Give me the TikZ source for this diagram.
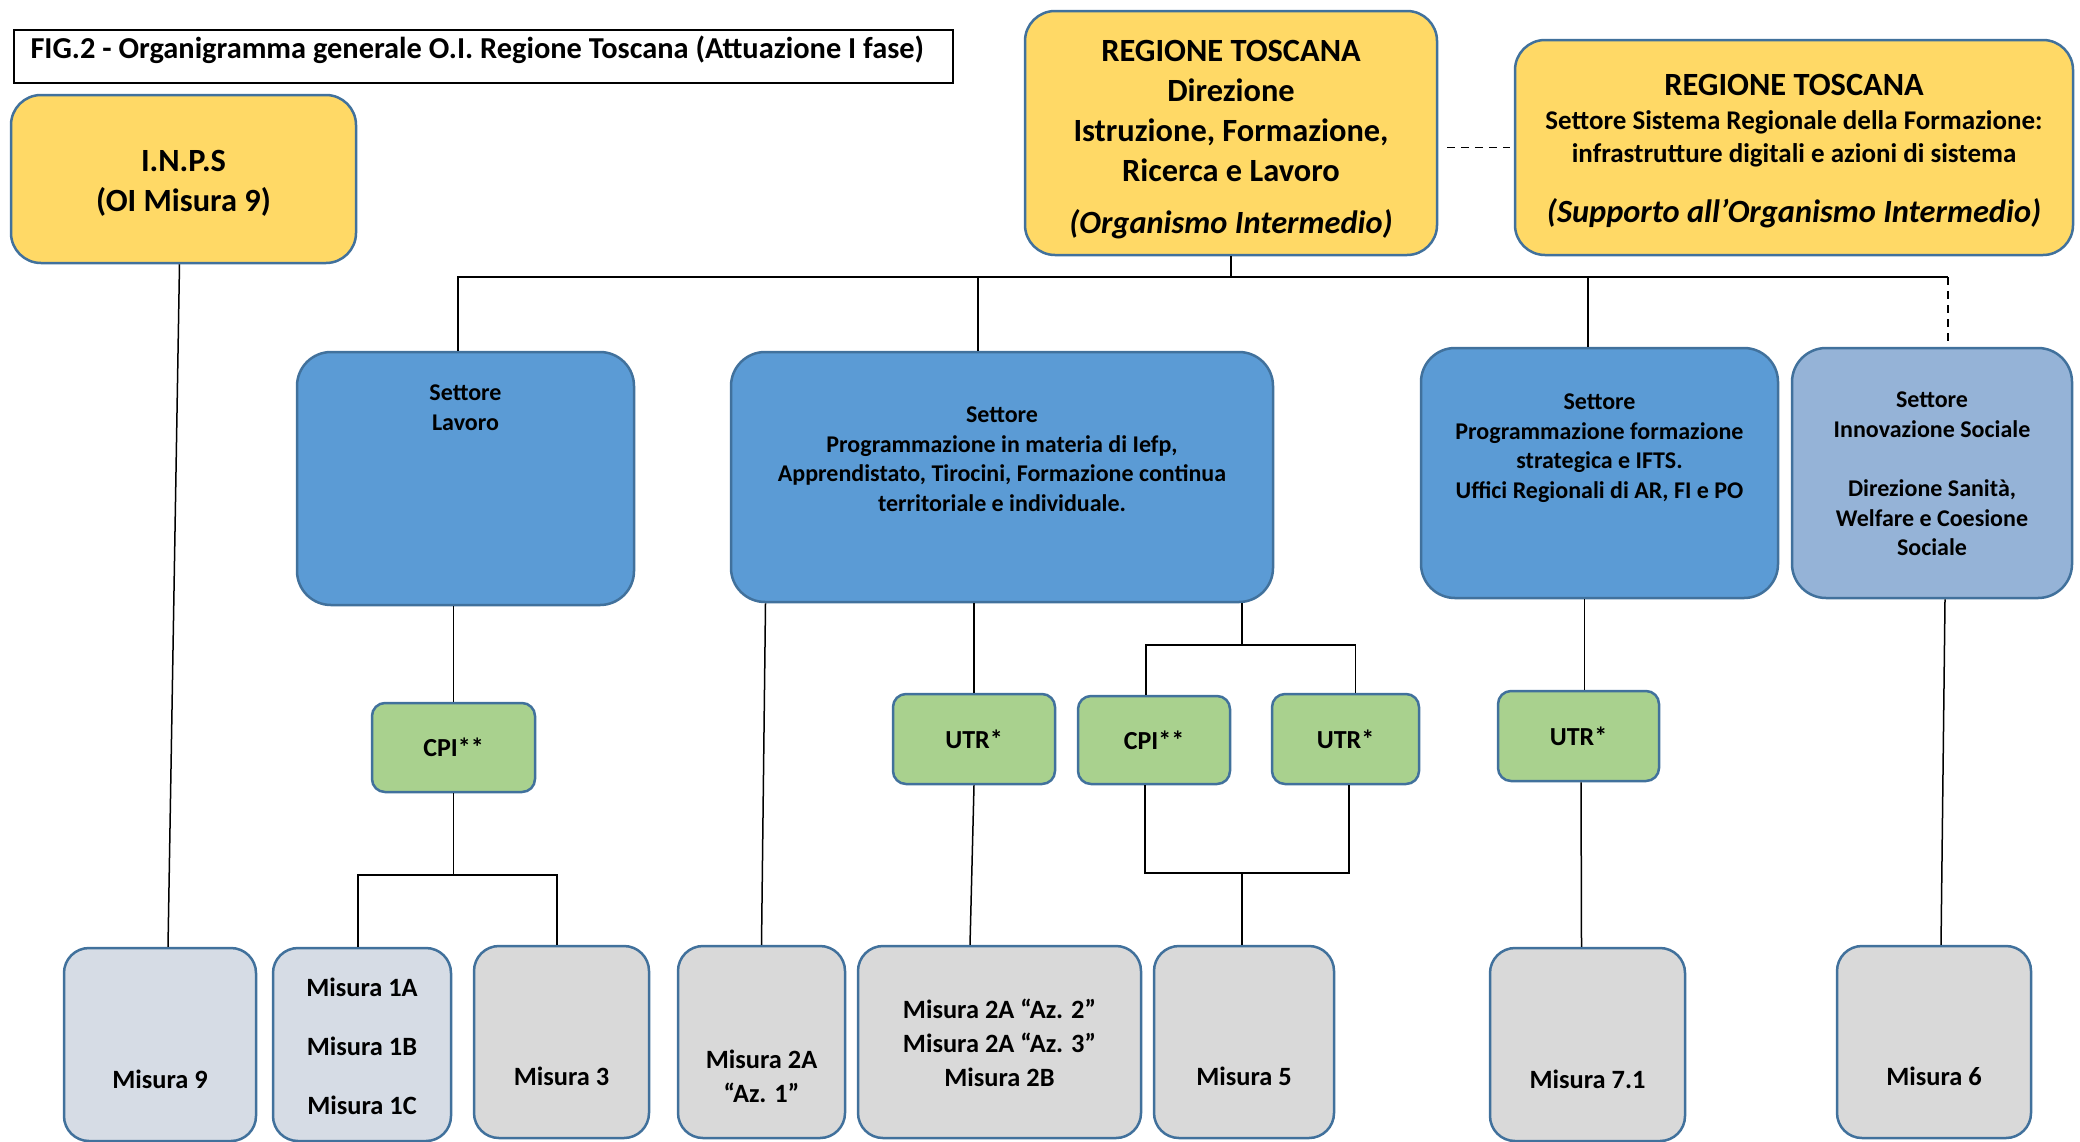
\documentclass[tikz,border=0pt]{standalone}
\usepackage{fontspec}
\setmainfont{Carlito}
\usetikzlibrary{calc}
\definecolor{bordo}{HTML}{41719C}
\definecolor{giallo}{HTML}{FFD966}
\definecolor{blu}{HTML}{5B9BD5}
\definecolor{bluchiaro}{HTML}{95B3D7}
\definecolor{verde}{HTML}{A9D18E}
\definecolor{grigio}{HTML}{D9D9D9}
\definecolor{grigioblu}{HTML}{D6DCE5}
\tikzstyle{block} = [rectangle, draw=bordo, line width=1.25pt, inner sep=0pt, text centered]
\tikzstyle{ente} = [block, fill=giallo, rounded corners=15pt, font=\bfseries\fontsize{16.2}{20}\selectfont]
\tikzstyle{settore} = [block, fill=blu, rounded corners=17pt, font=\bfseries\fontsize{12}{14.8}\selectfont]
\tikzstyle{sociale} = [settore, fill=bluchiaro]
\tikzstyle{ufficio} = [block, fill=verde, rounded corners=6.5pt, font=\bfseries\fontsize{13}{16}\selectfont]
\tikzstyle{misura} = [block, fill=grigio, rounded corners=12.5pt, font=\bfseries\fontsize{13.2}{17}\selectfont]
\tikzstyle{misurab} = [misura, fill=grigioblu]
\tikzstyle{conn} = [draw=black, line width=0.75pt]
\tikzstyle{tratto} = [conn, dashed, dash pattern=on 4pt off 3pt]
\newcommand{\txt}[2]{\raisebox{#1}[\height][\depth]{\begin{tabular}{@{}c@{}}#2\end{tabular}}}
\newcommand{\bassa}{-18.5pt}

\begin{document}
\begin{tikzpicture}[x=0.5pt, y=-0.5pt]

  \useasboundingbox (0,0) rectangle (2080,1141);

  % titolo
  \node (titolo) [draw=black, line width=1pt, inner sep=0pt, minimum width=469.5pt, minimum height=26.5pt,
                  anchor=north west, font=\bfseries\fontsize{15.2}{18}\selectfont] at (13,29)
        {\makebox[453pt][l]{\raisebox{3.25pt}[\height][\depth]{FIG.2 - Organigramma generale O.I. Regione Toscana (Attuazione I fase)}}};

  % enti
  \node (inps)  [ente, minimum width=172.5pt, minimum height=84pt] at (183.5,179) {\txt{-2.2pt}{I.N.P.S\\(OI Misura 9)}};
  \node (rtdir) [ente, minimum width=206pt, minimum height=122pt] at (1231,133)
        {\txt{-3pt}{REGIONE TOSCANA\\Direzione\\Istruzione, Formazione,\\Ricerca e Lavoro\\[6pt]\textit{(Organismo Intermedio)}}};
  \node (rtsup) [ente, minimum width=279pt, minimum height=107.5pt, font=\bfseries\fontsize{13.5}{16.5}\selectfont] at (1794,147.5)
        {\txt{-2.5pt}{{\fontsize{16.2}{16.5}\selectfont REGIONE TOSCANA}\\[0.5pt]
                   Settore Sistema Regionale della Formazione:\\
                   infrastrutture digitali e azioni di sistema\\[13pt]
                   {\fontsize{16.2}{16.5}\selectfont\itshape (Supporto all’Organismo Intermedio)}}};

  % settori
  \node (lavoro)   [settore, minimum width=168.5pt, minimum height=126.5pt] at (465.5,478.5) {\txt{34.5pt}{Settore\\Lavoro}};
  \node (prog)     [settore, minimum width=271pt, minimum height=125pt] at (1002,477)
        {\txt{8pt}{Settore\\Programmazione in materia di Iefp,\\Apprendistato, Tirocini, Formazione continua\\territoriale e individuale.}};
  \node (progform) [settore, minimum width=178.5pt, minimum height=125pt] at (1599.5,473)
        {\txt{12.5pt}{Settore\\Programmazione formazione\\strategica e IFTS.\\Uffici Regionali di AR, FI e PO}};
  \node (innov)    [sociale, minimum width=140pt, minimum height=125pt] at (1932,473)
        {\txt{-1.5pt}{Settore\\Innovazione Sociale\\[14.8pt]Direzione Sanità,\\Welfare e Coesione\\Sociale}};

  % uffici
  \node (cpi1) [ufficio, minimum width=81.5pt, minimum height=44.5pt] at (453.5,747.5) {CPI**};
  \node (utr1) [ufficio, minimum width=81pt, minimum height=45pt] at (974,739) {UTR*};
  \node (cpi2) [ufficio, minimum width=76pt, minimum height=44pt] at (1154,740) {CPI**};
  \node (utr2) [ufficio, minimum width=73.5pt, minimum height=45pt] at (1345.5,739) {UTR*};
  \node (utr3) [ufficio, minimum width=80.5pt, minimum height=45pt] at (1578.5,736) {UTR*};

  % misure
  \node (m9)   [misurab, minimum width=96pt, minimum height=96.5pt] at (160,1044.5) {\txt{\bassa}{Misura 9}};
  \node (m1)   [misurab, minimum width=89pt, minimum height=96.5pt] at (362,1044.5) {\txt{-2pt}{Misura 1A\\[12.5pt]Misura 1B\\[12.5pt]Misura 1C}};
  \node (m3)   [misura, minimum width=87.5pt, minimum height=96pt] at (561.5,1042) {\txt{\bassa}{Misura 3}};
  \node (m2a1) [misura, minimum width=83.5pt, minimum height=96pt] at (761.5,1042) {\txt{\bassa}{Misura 2A\\“Az. 1”}};
  \node (m2a2) [misura, minimum width=141.5pt, minimum height=96pt] at (999.5,1042)
        {\txt{-1.8pt}{Misura 2A “Az. 2”\\Misura 2A “Az. 3”\\Misura 2B}};
  \node (m5)   [misura, minimum width=90pt, minimum height=96pt] at (1244,1042) {\txt{\bassa}{Misura 5}};
  \node (m71)  [misura, minimum width=97.5pt, minimum height=96.5pt] at (1587.5,1044.5) {\txt{\bassa}{Misura 7.1}};
  \node (m6)   [misura, minimum width=97pt, minimum height=96pt] at (1934,1042) {\txt{\bassa}{Misura 6}};

  % direzione - settori
  \coordinate (bus) at (1231,277);
  \coordinate (soc) at ([xshift=8pt]innov.north |- bus);
  \draw [conn] (rtdir.south) -- (bus);
  \draw [conn] ([xshift=-3.75pt]lavoro.north) |- (bus);
  \draw [conn] ([xshift=-12pt]prog.north) |- (bus);
  \draw [conn] ([xshift=-5.75pt]progform.north) |- (bus) -- (soc);
  \draw [tratto] (soc) -- ([xshift=8pt]innov.north);
  \draw [tratto, shorten <=4.5pt, shorten >=2pt] (rtdir.east |- rtsup.west) -- (rtsup.west);

  % INPS
  \draw [conn] ([xshift=-2pt]inps.south) -- ([xshift=4pt]m9.north);

  % Lavoro
  \coordinate (j1) at (453.5,875);
  \draw [conn] (cpi1.north) -- (cpi1.north |- lavoro.south);
  \draw [conn] (cpi1.south) -- (j1);
  \draw [conn, line width=1pt] ([xshift=-2pt]m1.north) |- (j1) -| ([xshift=-2.25pt]m3.north);

  % Programmazione
  \draw [conn] (m2a1.north) -- ([xshift=2pt]m2a1.north |- prog.south);
  \draw [conn] (utr1.north) -- (utr1.north |- prog.south);
  \draw [conn] (utr1.south) -- ([xshift=-2pt]utr1.south |- m2a2.north);
  \coordinate (j2) at (1242,645);
  \coordinate (j3) at (1242,873);
  \draw [conn] (j2 |- prog.south) -- (j2);
  \draw [conn] ([xshift=-4pt]cpi2.north) |- (j2) -| ([xshift=5pt]utr2.north);
  \draw [conn] ([xshift=-4.5pt]cpi2.south) |- (j3) -| ([xshift=1.75pt]utr2.south);
  \draw [conn] (j3) -- (m5.north -| j3);

  % Formazione strategica
  \draw [conn] ([xshift=3pt]utr3.north) -- ([xshift=3pt]utr3.north |- progform.south);
  \draw [conn] ([xshift=1.25pt]utr3.south) -- ([xshift=-3pt]m71.north);

  % Innovazione sociale
  \draw [conn] ([xshift=6.5pt]innov.south) -- ([xshift=3.5pt]m6.north);

\end{tikzpicture}
\end{document}
